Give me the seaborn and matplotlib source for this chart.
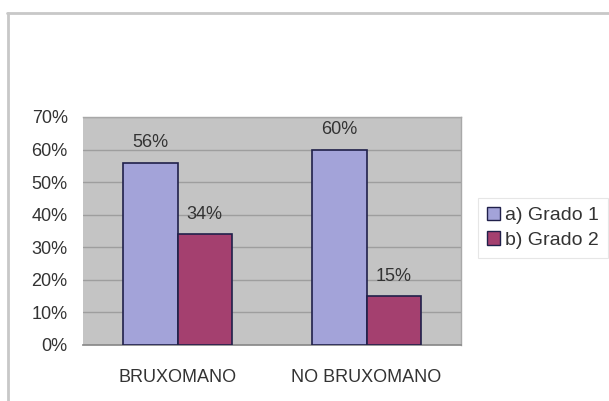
import pandas as pd
import numpy as np
import matplotlib.pyplot as plt
import seaborn as sns
from matplotlib.patches import Patch
from matplotlib.lines import Line2D

sns.set_theme(style="white")
plt.rcParams['font.family'] = ['Liberation Sans', 'DejaVu Sans']

# Data
groups = ["BRUXOMANO", "NO BRUXOMANO"]
series = ["a) Grado 1", "b) Grado 2"]
grado1 = [56, 60]
grado2 = [34, 15]
yticks = [0, 10, 20, 30, 40, 50, 60, 70]

df = pd.DataFrame({
    "group": groups * 2,
    "serie": [series[0]] * 2 + [series[1]] * 2,
    "value": grado1 + grado2,
})

colors = ["#A3A3D9", "#A4406F"]
edge = "#20204A"
text_col = "#333333"
fs = 12.5

fig = plt.figure(figsize=(6.09, 4.01), dpi=100)
fig.patch.set_facecolor("white")
ax = fig.add_axes([0.1363, 0.1397, 0.757 - 0.1363, 0.5686])

sns.barplot(data=df, x="group", y="value", hue="serie", palette=colors,
            width=0.575, edgecolor=edge, linewidth=1.2, saturation=1,
            ax=ax, legend=False, zorder=3)

ax.set_facecolor("#C4C4C4")
ax.set_ylim(0, 70)
ax.set_xlim(-0.5, 1.5)
ax.set_yticks(yticks)
ax.set_yticklabels([f"{v}%" for v in yticks])
ax.yaxis.grid(True, color="#9E9E9E", linewidth=1.0)
ax.set_axisbelow(True)
ax.set_xlabel("")
ax.set_ylabel("")
for s in ["top", "right"]:
    ax.spines[s].set_color("#A8A8A8")
    ax.spines[s].set_linewidth(1.0)
ax.spines["left"].set_visible(False)
ax.spines["bottom"].set_color("#8A8A8A")
ax.tick_params(axis="y", labelsize=fs + 0.5, pad=11, colors=text_col, length=0)
ax.tick_params(axis="x", labelsize=fs + 0.5, pad=17, colors=text_col, length=0)

for cont in ax.containers:
    ax.bar_label(cont, fmt="%d%%", padding=8, fontsize=fs + 0.5, color=text_col)

handles = [Patch(facecolor=c, edgecolor=edge, label=l) for c, l in zip(colors, series)]
leg = fig.legend(handles=handles, loc="upper left", bbox_to_anchor=(478 / 609, 1 - 198 / 401),
                 frameon=True, fancybox=False, fontsize=14, handlelength=0.7,
                 handleheight=0.7, handletextpad=0.25, borderpad=0.45, labelspacing=0.35,
                 borderaxespad=0)
leg.get_frame().set_edgecolor("#E0E0E0")
leg.get_frame().set_linewidth(0.8)
for t in leg.get_texts():
    t.set_color(text_col)

# outer chart frame
fig.add_artist(Line2D([7 / 609, 1.0], [1 - 13 / 401] * 2, transform=fig.transFigure,
                      color="#C8C8C8", linewidth=2.0))
fig.add_artist(Line2D([8 / 609] * 2, [0, 1 - 13 / 401], transform=fig.transFigure,
                      color="#C8C8C8", linewidth=2.0))

fig.savefig("out.png", dpi=100)
